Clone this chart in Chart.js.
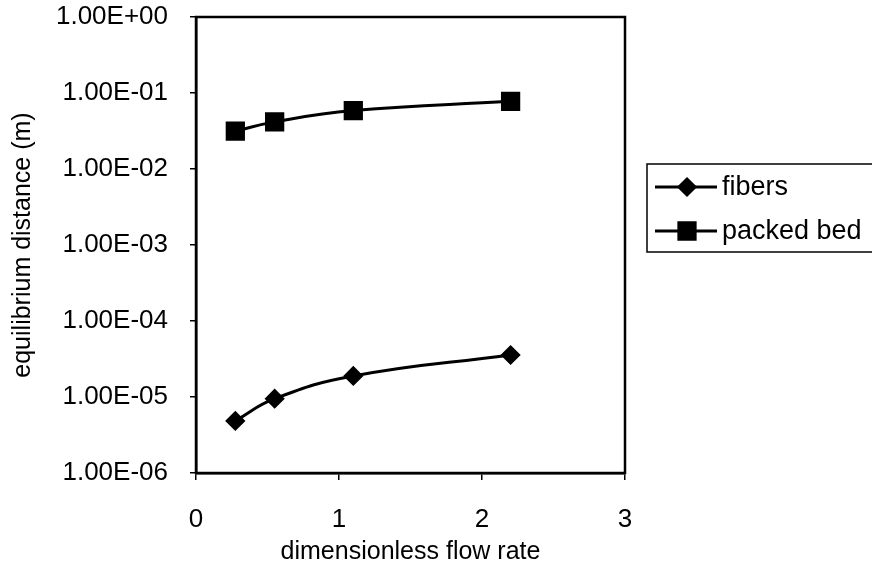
<!DOCTYPE html>
<html>
<head>
<meta charset="utf-8">
<script src="https://cdn.jsdelivr.net/npm/chart.js@4"></script>
<style>
  html, body { margin: 0; padding: 0; background: #fff; overflow: hidden; }
  canvas { display: block; }
</style>
</head>
<body>
<canvas id="chart" width="872" height="576"></canvas>
<script>
// Flow rate on x, equilibrium distance (m) on a log y axis
const flowRate = [0.275, 0.55, 1.1, 2.2];
const fibers = [4.85e-6, 9.5e-6, 1.89e-5, 3.57e-5];
const packedBed = [0.0314, 0.0417, 0.0587, 0.0778];
const seriesNames = ['fibers', 'packed bed'];
const yTicks = [1e-6, 1e-5, 1e-4, 1e-3, 1e-2, 1e-1, 1e0];
const xTicks = [0, 1, 2, 3];

const FONT = '"Liberation Sans", Arial, Helvetica, sans-serif';

// 1.00E-01 style labels
function sciLabel(v) {
  const parts = v.toExponential(2).split('e');
  const sign = parts[1][0];
  const digits = parts[1].slice(1).padStart(2, '0');
  return parts[0].toUpperCase() + 'E' + sign + digits;
}

function toPoints(xs, ys) {
  return xs.map((x, i) => ({ x: x, y: ys[i] }));
}

// Box round the plot area
const frame = {
  id: 'frame',
  afterDraw(chart) {
    const a = chart.chartArea;
    const ctx = chart.ctx;
    ctx.save();
    ctx.strokeStyle = '#000';
    ctx.lineWidth = 2.5;
    ctx.strokeRect(a.left, a.top, a.right - a.left, a.bottom - a.top);
    ctx.restore();
  }
};

// Boxed legend to the right of the plot
const boxLegend = {
  id: 'boxLegend',
  afterDraw(chart) {
    const a = chart.chartArea;
    const ctx = chart.ctx;
    const left = a.right + 22;
    const top = a.top + 147;
    ctx.save();
    ctx.strokeStyle = '#000';
    ctx.lineWidth = 1.5;
    ctx.strokeRect(left, top, 300, 88);
    chart.data.datasets.forEach((ds, i) => {
      const y = top + 23 + i * 44;
      ctx.strokeStyle = ds.borderColor;
      ctx.lineWidth = ds.borderWidth;
      ctx.beginPath();
      ctx.moveTo(left + 8, y);
      ctx.lineTo(left + 70, y);
      ctx.stroke();
      ctx.fillStyle = ds.pointBackgroundColor;
      Chart.helpers.drawPoint(ctx, {
        pointStyle: ds.pointStyle,
        radius: ds.pointRadius,
        borderWidth: 1
      }, left + 40, y);
      ctx.fillStyle = '#000';
      ctx.font = '27px ' + FONT;
      ctx.textBaseline = 'middle';
      ctx.fillText(ds.label, left + 75, y + 1);
    });
    ctx.restore();
  }
};

new Chart(document.getElementById('chart'), {
  type: 'scatter',
  data: {
    datasets: [
      {
        label: seriesNames[0],
        data: toPoints(flowRate, fibers),
        showLine: true,
        tension: 0.45,
        borderColor: '#000',
        borderWidth: 3,
        pointStyle: 'rectRot',
        pointRadius: 8,
        pointBackgroundColor: '#000',
        pointBorderColor: '#000'
      },
      {
        label: seriesNames[1],
        data: toPoints(flowRate, packedBed),
        showLine: true,
        tension: 0.45,
        borderColor: '#000',
        borderWidth: 3,
        pointStyle: 'rect',
        pointRadius: 11.5,
        pointBackgroundColor: '#000',
        pointBorderColor: '#000'
      }
    ]
  },
  options: {
    responsive: false,
    animation: false,
    devicePixelRatio: 1,
    layout: { padding: { left: 0, right: 247, top: 17, bottom: 0 } },
    plugins: {
      legend: { display: false },
      tooltip: { enabled: false }
    },
    scales: {
      x: {
        type: 'linear',
        min: 0,
        max: 3,
        afterBuildTicks(scale) {
          scale.ticks = xTicks.map(v => ({ value: v }));
        },
        afterFit(scale) { scale.height = 103; },
        grid: { drawOnChartArea: false, drawTicks: true, tickLength: 7, color: '#000', lineWidth: 1.5 },
        border: { display: true, color: '#000', width: 2.5 },
        ticks: { color: '#000', padding: 24, font: { family: FONT, size: 26 } },
        title: {
          display: true,
          text: 'dimensionless flow rate',
          color: '#000',
          font: { family: FONT, size: 25 },
          padding: { top: 0, bottom: 9 }
        }
      },
      y: {
        type: 'logarithmic',
        min: 1e-6,
        max: 1,
        afterBuildTicks(scale) {
          scale.ticks = yTicks.map(v => ({ value: v }));
        },
        afterFit(scale) {
          scale.width = 196;
          scale.paddingTop = 0;
          scale.paddingBottom = 0;
        },
        grid: { drawOnChartArea: false, drawTicks: true, tickLength: 6, color: '#000', lineWidth: 1.5 },
        border: { display: true, color: '#000', width: 2.5 },
        ticks: {
          color: '#000',
          padding: 22,
          font: { family: FONT, size: 26 },
          callback: v => sciLabel(v)
        },
        title: {
          display: true,
          text: 'equilibrium distance (m)',
          color: '#000',
          font: { family: FONT, size: 25 },
          padding: { top: 8, bottom: 0 }
        }
      }
    }
  },
  plugins: [frame, boxLegend]
});
</script>
</body>
</html>
